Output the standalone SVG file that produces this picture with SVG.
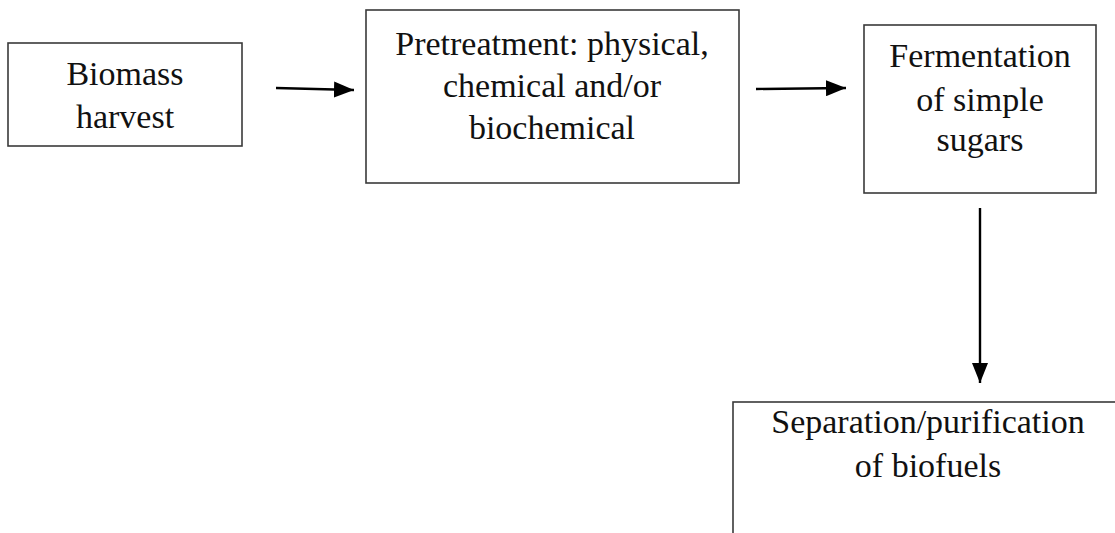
<svg xmlns="http://www.w3.org/2000/svg" width="1115" height="533" viewBox="0 0 1115 533">
<defs>
<marker id="ah" markerWidth="20" markerHeight="16" refX="20" refY="8" orient="auto" markerUnits="userSpaceOnUse">
<path d="M0,0 L20,8 L0,16 Z" fill="#000"/>
</marker>
<style>
.box{fill:#fff;stroke:#3a3a3a;stroke-width:1.6}
.t{font-family:"Liberation Serif","Times New Roman",serif;font-size:34px;fill:#111;text-anchor:middle}
.c{stroke:#000;stroke-width:2.4;fill:none}
</style>
</defs>
<rect width="1115" height="533" fill="#fff"/>
<g id="connectors">
<line class="c" x1="276" y1="88" x2="354" y2="90" marker-end="url(#ah)"/>
<line class="c" x1="756" y1="89" x2="846" y2="88" marker-end="url(#ah)"/>
<line class="c" x1="980" y1="208" x2="980" y2="383" marker-end="url(#ah)"/>
</g>
<g id="biomass">
<rect class="box" x="8" y="43" width="234" height="103"/>
<text class="t" x="125" y="85">Biomass</text>
<text class="t" x="125" y="128">harvest</text>
</g>
<g id="pretreatment">
<rect class="box" x="366" y="10" width="373" height="173"/>
<text class="t" x="552" y="55">Pretreatment: physical,</text>
<text class="t" x="552" y="97">chemical and/or</text>
<text class="t" x="552" y="139">biochemical</text>
</g>
<g id="fermentation">
<rect class="box" x="864" y="25" width="232" height="168"/>
<text class="t" x="980" y="67">Fermentation</text>
<text class="t" x="980" y="111">of simple</text>
<text class="t" x="980" y="151">sugars</text>
</g>
<g id="separation">
<rect class="box" x="733" y="402" width="390" height="150"/>
<text class="t" x="928" y="433">Separation/purification</text>
<text class="t" x="928" y="477">of biofuels</text>
</g>
</svg>
